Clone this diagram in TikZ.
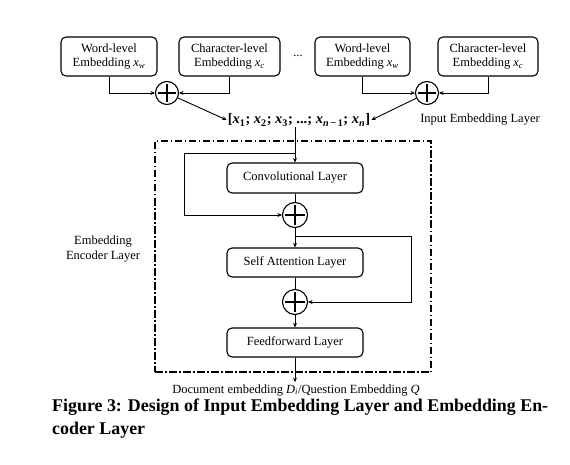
\documentclass[tikz,border=0pt]{standalone}
\usepackage{fontspec}
\setmainfont{Liberation Serif}
\usetikzlibrary{arrows.meta}
\newcommand{\iv}[2]{\textit{#1}\textsubscript{\textit{#2}}}
\newcommand{\bv}[2]{\textbf{\textit{#1}}\textsubscript{\textbf{#2}}}
\begin{document}
\begin{tikzpicture}[x=1pt,y=-1pt,
  lbl/.style={font=\fontsize{12.5}{14.5}\selectfont},
  layerbox/.style={draw, rounded corners=5pt, line width=1.1pt, align=center, inner sep=0pt, lbl},
  addnode/.style={draw, circle, line width=1.1pt, inner sep=0pt, minimum size=#1,
    path picture={
      \draw[line width=1.5pt] ([yshift=-2.5pt]path picture bounding box.north) -- ([yshift=2.5pt]path picture bounding box.south);
      \draw[line width=1.5pt] ([xshift=2.5pt]path picture bounding box.west) -- ([xshift=-2.5pt]path picture bounding box.east);
    }},
  conn/.style={line width=0.9pt},
  arr/.style={conn, -{Stealth[length=4.5pt,width=4pt]}},
  frame/.style={draw, line width=1.1pt, dash pattern=on 7.5pt off 2.5pt on 1.5pt off 2.5pt, inner sep=0pt},
  captext/.style={anchor=base west, font=\fontsize{17.9}{23}\selectfont\bfseries, inner sep=0pt}
]
\useasboundingbox (0,0) rectangle (570,465);

% input embedding boxes
\node[layerbox, minimum width=96pt, minimum height=39pt] (w1) at (109,56.5) {Word-level\\Embedding \iv{x}{w}};
\node[layerbox, minimum width=101pt, minimum height=39pt] (c1) at (229.5,56.5) {Character-level\\Embedding \iv{x}{c}};
\node[lbl] (dots) at (298,56) {...};
\node[layerbox, minimum width=95pt, minimum height=39pt] (w2) at (362.5,56.5) {Word-level\\Embedding \iv{x}{w}};
\node[layerbox, minimum width=100pt, minimum height=39pt] (c2) at (488,56.5) {Character-level\\Embedding \iv{x}{c}};

\node[addnode=23pt] (p1) at (167,93) {};
\node[addnode=23pt] (p2) at (427,93) {};

\node[font=\fontsize{14.5}{16}\selectfont\bfseries, inner sep=1pt] (seq) at (299,120) {[\bv{x}{1}; \bv{x}{2}; \bv{x}{3}; ...; \bv{x}{\textit{n}\,−\,1}; \bv{x}{\textit{n}}]};
\node[lbl] (iel) at (480,120) {Input Embedding Layer};

\draw[arr] (w1.south) |- (p1);
\draw[arr] (c1.south) |- (p1);
\draw[arr] (w2.south) |- (p2);
\draw[arr] (c2.south) |- (p2);
\draw[arr] (p1) -- (seq.west);
\draw[arr] (p2) -- (seq.east);

% encoder frame
\node[frame, minimum width=276pt, minimum height=231pt] (enc) at (293,256.5) {};
\node[lbl, align=center] (encl) at (103,249) {Embedding\\Encoder Layer};

\node[layerbox, minimum width=136pt, minimum height=30pt] (conv) at (295,178) {Convolutional Layer};
\node[addnode=25pt] (p3) at (295,215) {};
\node[layerbox, minimum width=136pt, minimum height=29pt] (sa) at (295,262.5) {Self Attention Layer};
\node[addnode=25pt] (p4) at (295,302) {};
\node[layerbox, minimum width=136pt, minimum height=29pt] (ff) at (295,342.5) {Feedforward Layer};

\node[lbl, anchor=base, inner sep=0pt] (out) at (296,393) {Document embedding \iv{D}{i}/Question Embedding \textit{Q}};

\coordinate (b1) at (295,153);
\coordinate (s1) at (184,153);
\coordinate (b2) at (295,236);
\coordinate (s2) at (411,236);

\draw[arr] (seq.south -| conv.north) -- (conv.north);
\draw[arr] (b1) -- (s1) |- (p3);
\draw[conn] (conv.south) -- (p3.north);
\draw[arr] (p3.south) -- (sa.north);
\draw[arr] (b2) -- (s2) |- (p4);
\draw[conn] (sa.south) -- (p4.north);
\draw[arr] (p4.south) -- (ff.north);
\draw[arr] (ff.south) -- ([yshift=2pt]out.north -| ff.south);

% caption
\node[captext] (cap1) at (52,411) {Figure 3: Design of Input Embedding Layer and Embedding En-};
\node[captext] (cap2) at (52,434) {coder Layer};
\end{tikzpicture}
\end{document}
